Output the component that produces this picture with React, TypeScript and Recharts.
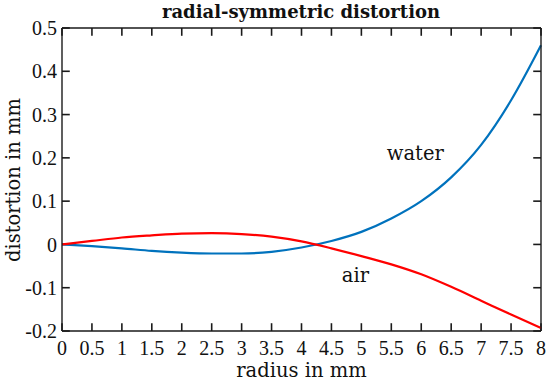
import React from 'react'
import { LineChart, Line, XAxis, YAxis, ReferenceDot, ReferenceLine } from 'recharts'

const radius = [0, 0.5, 1, 1.5, 2, 2.5, 3, 3.5, 4, 4.5, 5, 5.5, 6, 6.5, 7, 7.5, 8]
const water = [0, -0.004, -0.009, -0.015, -0.019, -0.021, -0.021, -0.017, -0.007, 0.008, 0.029, 0.06, 0.1, 0.155, 0.23, 0.333, 0.46]
const air = [0, 0.008, 0.016, 0.021, 0.025, 0.026, 0.024, 0.018, 0.007, -0.009, -0.027, -0.046, -0.069, -0.098, -0.13, -0.162, -0.193]

const xTicks = [0, 0.5, 1, 1.5, 2, 2.5, 3, 3.5, 4, 4.5, 5, 5.5, 6, 6.5, 7, 7.5, 8]
const yTicks = [-0.2, -0.1, 0, 0.1, 0.2, 0.3, 0.4, 0.5]

const data = radius.map((r, i) => ({ r, water: water[i], air: air[i] }))

const X_MIN = 0
const X_MAX = 8
const Y_MIN = -0.2
const Y_MAX = 0.5

const AXIS = '#1a1a1a'
const TEXT = '#111'
const TICK_FONT = '"Liberation Serif", serif'
const LABEL_FONT = '"DejaVu Serif", serif'
// inward tick length, in data units (~8px each way)
const TICK_DX = 0.13
const TICK_DY = 0.018

const fmt = (v: number) => String(Math.round(v * 10) / 10)

const BottomTick = ({ x, y, payload }: any) => (
  <text x={x} y={y + 24} textAnchor="middle" fontSize={20} fontFamily={TICK_FONT} fill={TEXT}>
    {fmt(payload.value)}
  </text>
)
const LeftTick = ({ x, y, payload }: any) => (
  <text x={x - 5} y={y} dy="0.36em" textAnchor="end" fontSize={20} fontFamily={TICK_FONT} fill={TEXT}>
    {fmt(payload.value)}
  </text>
)
const NoTick = () => <g />

const overlayText: React.CSSProperties = {
  position: 'absolute', fontFamily: LABEL_FONT, fontSize: 19.5, color: TEXT, whiteSpace: 'nowrap', lineHeight: '24px',
}

export default function App() {
  return (
    <div style={{ position: 'absolute', left: 0, top: 0, width: 550, height: 385, background: '#fff' }}>
      <div
        style={{
          position: 'absolute', left: 0, top: 0, width: 550, textAlign: 'center', paddingLeft: 52,
          boxSizing: 'border-box', fontFamily: LABEL_FONT, fontWeight: 'bold', fontSize: 18,
          lineHeight: '24px', color: TEXT,
        }}
      >
        radial-symmetric distortion
      </div>
      <div style={{ ...overlayText, left: 62, top: 359, width: 479, textAlign: 'center' }}>radius in mm</div>
      <div
        style={{
          ...overlayText, left: 14, top: 180, width: 240, textAlign: 'center',
          transform: 'translate(-50%, -50%) rotate(-90deg)',
        }}
      >
        distortion in mm
      </div>
      <LineChart width={550} height={385} data={data} margin={{ top: 0, right: 0, bottom: 0, left: 0 }}>
        <XAxis
          dataKey="r" type="number" domain={[X_MIN, X_MAX]} ticks={xTicks} interval={0}
          height={54} tickSize={0} tickMargin={0} tickLine={false}
          axisLine={{ stroke: AXIS, strokeWidth: 1.4 }} tick={<BottomTick />}
        />
        <XAxis
          xAxisId="top" orientation="top" dataKey="r" type="number" domain={[X_MIN, X_MAX]} ticks={xTicks} interval={0}
          height={28} tickSize={0} tickMargin={0} tickLine={false}
          axisLine={{ stroke: AXIS, strokeWidth: 1.4 }} tick={<NoTick />}
        />
        <YAxis
          type="number" domain={[Y_MIN, Y_MAX]} ticks={yTicks} interval={0}
          width={62} tickSize={0} tickMargin={0} tickLine={false}
          axisLine={{ stroke: AXIS, strokeWidth: 1.4 }} tick={<LeftTick />}
        />
        <YAxis
          yAxisId="right" orientation="right" type="number" domain={[Y_MIN, Y_MAX]} ticks={yTicks} interval={0}
          width={9} tickSize={0} tickMargin={0} tickLine={false}
          axisLine={{ stroke: AXIS, strokeWidth: 1.4 }} tick={<NoTick />}
        />

        {/* inward tick marks on all four sides */}
        {xTicks.map((t) => (
          <ReferenceLine key={`b${t}`} ifOverflow="visible" segment={[{ x: t, y: Y_MIN }, { x: t, y: Y_MIN + TICK_DY }]} stroke={AXIS} strokeWidth={1.6} />
        ))}
        {xTicks.map((t) => (
          <ReferenceLine key={`t${t}`} ifOverflow="visible" segment={[{ x: t, y: Y_MAX }, { x: t, y: Y_MAX - TICK_DY }]} stroke={AXIS} strokeWidth={1.6} />
        ))}
        {yTicks.map((t) => (
          <ReferenceLine key={`l${t}`} ifOverflow="visible" segment={[{ x: X_MIN, y: t }, { x: X_MIN + TICK_DX, y: t }]} stroke={AXIS} strokeWidth={1.6} />
        ))}
        {yTicks.map((t) => (
          <ReferenceLine key={`r${t}`} ifOverflow="visible" segment={[{ x: X_MAX, y: t }, { x: X_MAX - TICK_DX, y: t }]} stroke={AXIS} strokeWidth={1.6} />
        ))}

        <Line type="monotone" dataKey="water" stroke="#0072BD" strokeWidth={2.2} dot={false} isAnimationActive={false} />
        <Line type="monotone" dataKey="air" stroke="#FF0000" strokeWidth={2.2} dot={false} isAnimationActive={false} />
        <ReferenceDot
          x={5.9} y={0.21} r={0} fill="none" stroke="none"
          label={{ value: 'water', position: 'center', fontSize: 19.5, fontFamily: LABEL_FONT, fill: TEXT }}
        />
        <ReferenceDot
          x={4.9} y={-0.07} r={0} fill="none" stroke="none"
          label={{ value: 'air', position: 'center', fontSize: 19.5, fontFamily: LABEL_FONT, fill: TEXT }}
        />
      </LineChart>
    </div>
  )
}
